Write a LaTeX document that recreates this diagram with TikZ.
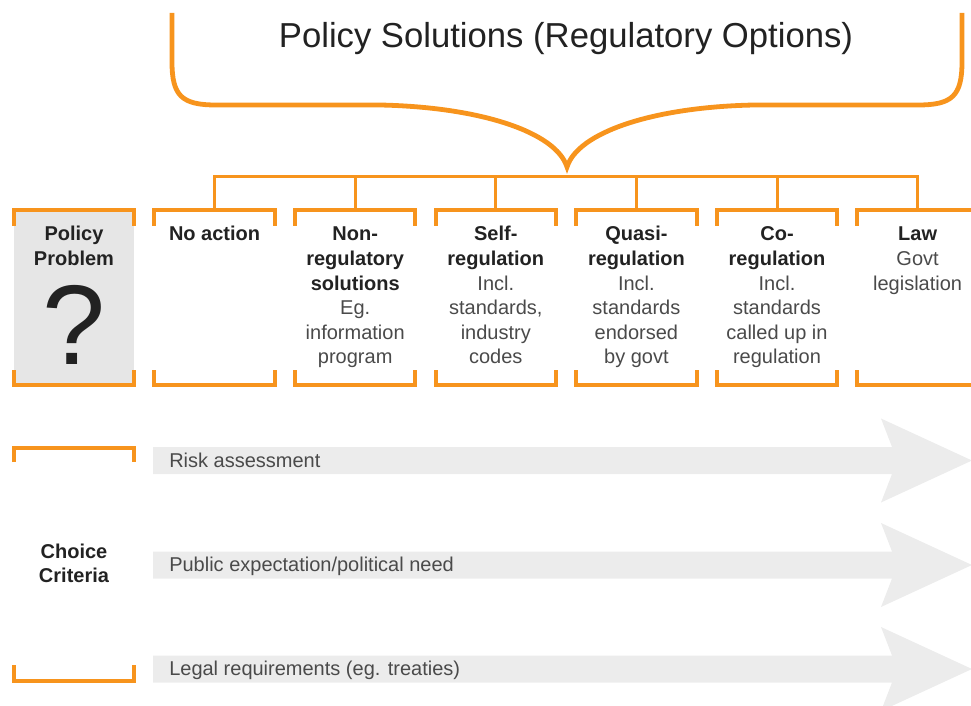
\documentclass[tikz,border=0pt]{standalone}
\usepackage{fontspec}
\setmainfont{Liberation Sans}
\usetikzlibrary{calc}
\definecolor{orng}{HTML}{F7941D}
\definecolor{lgray}{HTML}{ECECEC}
\definecolor{bgray}{HTML}{E6E6E6}
\definecolor{txtd}{HTML}{222222}
\definecolor{txtn}{HTML}{4A4A4A}
\newcommand\bt[1]{\textbf{\color{txtd}#1}}
\newcommand\fs{\rule{0pt}{11pt}}
\newcommand\critarrowpath[1]{\fill[lgray] (153,#1-13.5) -- (892,#1-13.5) -- (881,#1-42) -- (972,#1) -- (881,#1+42) -- (892,#1+13.5) -- (153,#1+13.5) -- cycle;}
\begin{document}
\begin{tikzpicture}[x=0.75pt,y=-0.75pt,
  brace/.style={orng,line width=3.6pt,line cap=butt},
  conn/.style={orng,line width=2.25pt},
  bracket/.style={orng,line width=3pt,line join=miter,line cap=butt},
  optbox/.style={rectangle,inner sep=0pt,minimum width=90pt,minimum height=131.25pt},
  boxtext/.style={anchor=north,inner sep=0pt,align=center,font=\fontsize{15}{18.4}\selectfont,text=txtn},
  arrlabel/.style={anchor=base west,inner sep=0pt,font=\fontsize{15}{18}\selectfont,text=txtn}
]
\useasboundingbox (0,0) rectangle (971,706);

% title and brace
\node[anchor=base,inner sep=0pt,font=\fontsize{26}{30}\selectfont,text=txtd] (title) at (566,48) {Policy Solutions (Regulatory Options)};
\coordinate (bp) at (567,167);
\draw[brace] (172,13) -- (172,62) .. controls (172,96) and (182,105) .. (216,105) -- (380,105) .. controls (480,107) and (556,132) .. (bp) .. controls (578,132) and (654,107) .. (754,105) -- (918,105) .. controls (952,105) and (962,96) .. (962,62) -- (962,13);

% option boxes
\node[optbox,fill=bgray] (b0) at (74,297.5) {};
\node[optbox] (b1) at (214.6,297.5) {};
\node[optbox] (b2) at (355.2,297.5) {};
\node[optbox] (b3) at (495.8,297.5) {};
\node[optbox] (b4) at (636.4,297.5) {};
\node[optbox] (b5) at (777,297.5) {};
\node[optbox] (b6) at (917.6,297.5) {};

% connectors
\coordinate (bar) at (567,177);
\draw[conn] (b1.north) -- (b1.north |- bar) -- (b6.north |- bar) -- (b6.north);
\foreach \i in {2,...,5} \draw[conn] (b\i.north |- bar) -- (b\i.north);

% brackets
\foreach \i in {0,...,6} {
  \draw[bracket] ($(b\i.north west)+(0,16)$) -- (b\i.north west) -- (b\i.north east) -- ($(b\i.north east)+(0,16)$);
  \draw[bracket] ($(b\i.south west)+(0,-15)$) -- (b\i.south west) -- (b\i.south east) -- ($(b\i.south east)+(0,-15)$);
}

% box texts
\node[boxtext] (t0) at ($(b0.north)+(0,16.3)$) {\fs\bt{Policy}\\\bt{Problem}};
\node[anchor=base,inner sep=0pt,font=\fontsize{85}{85}\selectfont,text=txtd] (q) at (74,364) {?};
\node[boxtext] (t1) at ($(b1.north)+(0,16.3)$) {\fs\bt{No action}};
\node[boxtext] (t2) at ($(b2.north)+(0,16.3)$) {\fs\bt{Non-}\\\bt{regulatory}\\\bt{solutions}\\Eg.\\information\\program};
\node[boxtext] (t3) at ($(b3.north)+(0,16.3)$) {\fs\bt{Self-}\\\bt{regulation}\\Incl.\\standards,\\industry\\codes};
\node[boxtext] (t4) at ($(b4.north)+(0,16.3)$) {\fs\bt{Quasi-}\\\bt{regulation}\\Incl.\\standards\\endorsed\\by govt};
\node[boxtext] (t5) at ($(b5.north)+(0,16.3)$) {\fs\bt{Co-}\\\bt{regulation}\\Incl.\\standards\\called up in\\regulation};
\node[boxtext] (t6) at ($(b6.north)+(0,16.3)$) {\fs\bt{Law}\\Govt\\legislation};

% choice criteria
\node[rectangle,inner sep=0pt,minimum width=90pt,minimum height=174.4pt] (cc) at (74,564.75) {};
\draw[bracket] ($(cc.north west)+(0,14)$) -- (cc.north west) -- (cc.north east) -- ($(cc.north east)+(0,14)$);
\draw[bracket] ($(cc.south west)+(0,-16)$) -- (cc.south west) -- (cc.south east) -- ($(cc.south east)+(0,-16)$);
\node[boxtext] (cct) at (74,543.3) {\fs\bt{Choice}\\\bt{Criteria}};

% criteria arrows
\critarrowpath{460.5}
\critarrowpath{565}
\critarrowpath{669}
\node[arrlabel] (l1) at (169,467) {Risk assessment};
\node[arrlabel] (l2) at (169,571.5) {Public expectation/political need};
\node[arrlabel] (l3) at (169,675.5) {Legal requirements (eg. treaties)};
\end{tikzpicture}
\end{document}
